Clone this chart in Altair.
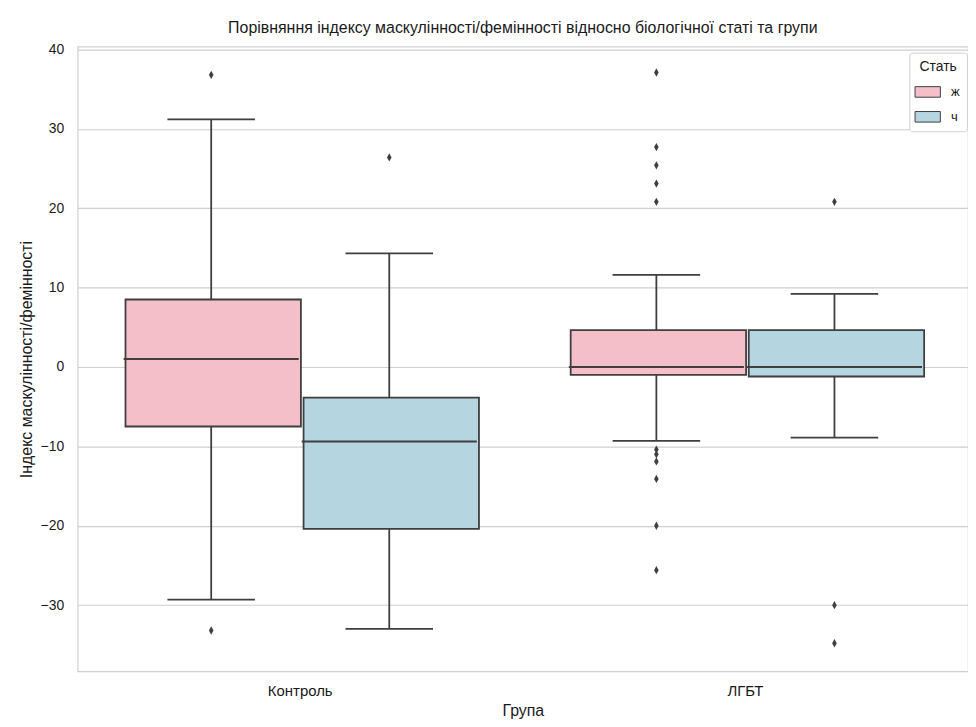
import altair as alt
import pandas as pd

# ---- data ----
groups = ["Контроль", "ЛГБТ"]
sexes = ["ж", "ч"]

box_group = ["Контроль", "Контроль", "ЛГБТ", "ЛГБТ"]
box_sex = ["ж", "ч", "ж", "ч"]
q1 = [-7.5, -20.4, -1.0, -1.2]
median = [1.0, -9.4, 0.0, 0.0]
q3 = [8.5, -3.85, 4.65, 4.65]
whisker_low = [-29.3, -33.0, -9.3, -8.9]
whisker_high = [31.2, 14.3, 11.6, 9.2]

out_group = ["Контроль", "Контроль", "Контроль",
             "ЛГБТ", "ЛГБТ", "ЛГБТ", "ЛГБТ", "ЛГБТ", "ЛГБТ", "ЛГБТ", "ЛГБТ",
             "ЛГБТ", "ЛГБТ", "ЛГБТ",
             "ЛГБТ", "ЛГБТ", "ЛГБТ"]
out_sex = ["ж", "ж", "ч",
           "ж", "ж", "ж", "ж", "ж", "ж", "ж", "ж", "ж", "ж", "ж",
           "ч", "ч", "ч"]
out_value = [36.8, -33.2, 26.4,
             37.1, 27.7, 25.4, 23.1, 20.8, -10.4, -11.0, -11.9, -14.1, -20.0, -25.6,
             20.8, -30.0, -34.8]

boxes = pd.DataFrame({"group": box_group, "sex": box_sex, "q1": q1, "med": median,
                      "q3": q3, "lo": whisker_low, "hi": whisker_high})
outliers = pd.DataFrame({"group": out_group, "sex": out_sex, "value": out_value})

FONT = "Liberation Sans"
TXT = "#1a1a1a"
LINE = "#3f3f3f"
pink = "#f5bfc9"
blue = "#b5d5e0"

x_enc = alt.X("group:N", title="Група",
              scale=alt.Scale(domain=groups, paddingInner=0, paddingOuter=0),
              axis=alt.Axis(labelAngle=0, ticks=False, domain=False, grid=False,
                            labelPadding=12, titlePadding=4, labelFontSize=15,
                            titleFontSize=16, titleFontWeight="normal"))
xoff = alt.XOffset("sex:N", scale=alt.Scale(domain=sexes, paddingOuter=0.25, paddingInner=0))
y_scale = alt.Scale(domain=[-38.35, 40.35], nice=False, zero=False)
y_axis = alt.Axis(values=[-30, -20, -10, 0, 10, 20, 30, 40], ticks=False, domain=False,
                  labelPadding=14, titlePadding=6, labelFontSize=14, titleFontSize=16,
                  titleFontWeight="normal", gridColor="#cfcfcf", gridWidth=1.2)

base = alt.Chart(boxes).encode(x=x_enc, xOffset=xoff)

whisk_lo = base.mark_rule(color=LINE, strokeWidth=1.8, opacity=1).encode(
    y=alt.Y("lo:Q", scale=y_scale, axis=y_axis, title="Індекс маскулінності/фемінності"),
    y2="q1:Q")
whisk_hi = base.mark_rule(color=LINE, strokeWidth=1.8, opacity=1).encode(
    y=alt.Y("q3:Q", scale=y_scale), y2="hi:Q")
cap_lo = base.mark_tick(color=LINE, size=88, thickness=1.8, orient="horizontal", opacity=1).encode(
    y=alt.Y("lo:Q", scale=y_scale))
cap_hi = base.mark_tick(color=LINE, size=88, thickness=1.8, orient="horizontal", opacity=1).encode(
    y=alt.Y("hi:Q", scale=y_scale))
box = base.mark_bar(stroke=LINE, strokeWidth=1.8, opacity=1,
                    width=alt.RelativeBandSize(0.985)).encode(
    y=alt.Y("q1:Q", scale=y_scale), y2="q3:Q",
    color=alt.Color("sex:N", title="Стать",
                    scale=alt.Scale(domain=sexes, range=[pink, blue]),
                    legend=alt.Legend(orient="none", legendX=836, legendY=6,
                                      symbolType="M-1.2,-0.5L1.2,-0.5L1.2,0.5L-1.2,0.5Z",
                                      symbolSize=450, symbolStrokeColor=LINE,
                                      symbolStrokeWidth=1, symbolOpacity=1,
                                      labelFontSize=13, titleFontSize=14,
                                      titleFontWeight="normal", labelOffset=12,
                                      rowPadding=6, padding=7, strokeColor="#d0d0d0",
                                      fillColor="white", cornerRadius=3,
                                      titleAnchor="middle", titlePadding=7)))
med = base.mark_tick(color=LINE, size=176, thickness=2, orient="horizontal", opacity=1).encode(
    y=alt.Y("med:Q", scale=y_scale))

pts = alt.Chart(outliers).mark_point(
    shape="M0,-1L0.55,0L0,1L-0.55,0Z", filled=True, color=LINE, opacity=1, size=70
).encode(x=x_enc, xOffset=xoff, y=alt.Y("value:Q", scale=y_scale))

chart = alt.layer(whisk_lo, whisk_hi, cap_lo, cap_hi, box, med, pts).properties(
    width=895, height=628,
    padding={"left": 70, "top": 37, "right": 0, "bottom": 53},
    autosize=alt.AutoSizeParams(type="none"),
    title=alt.Title("Порівняння індексу маскулінності/фемінності відносно біологічної статі та групи",
                    fontSize=16, fontWeight="normal", offset=7, anchor="middle"),
).configure(font=FONT).configure_view(stroke="#cfcfcf", strokeWidth=1.2).configure_axis(
    labelColor=TXT, titleColor=TXT, labelFont=FONT, titleFont=FONT
).configure_title(color=TXT, font=FONT).configure_legend(labelColor=TXT, titleColor=TXT)

chart.save("out.html", embed_options={"renderer": "svg", "actions": False})
